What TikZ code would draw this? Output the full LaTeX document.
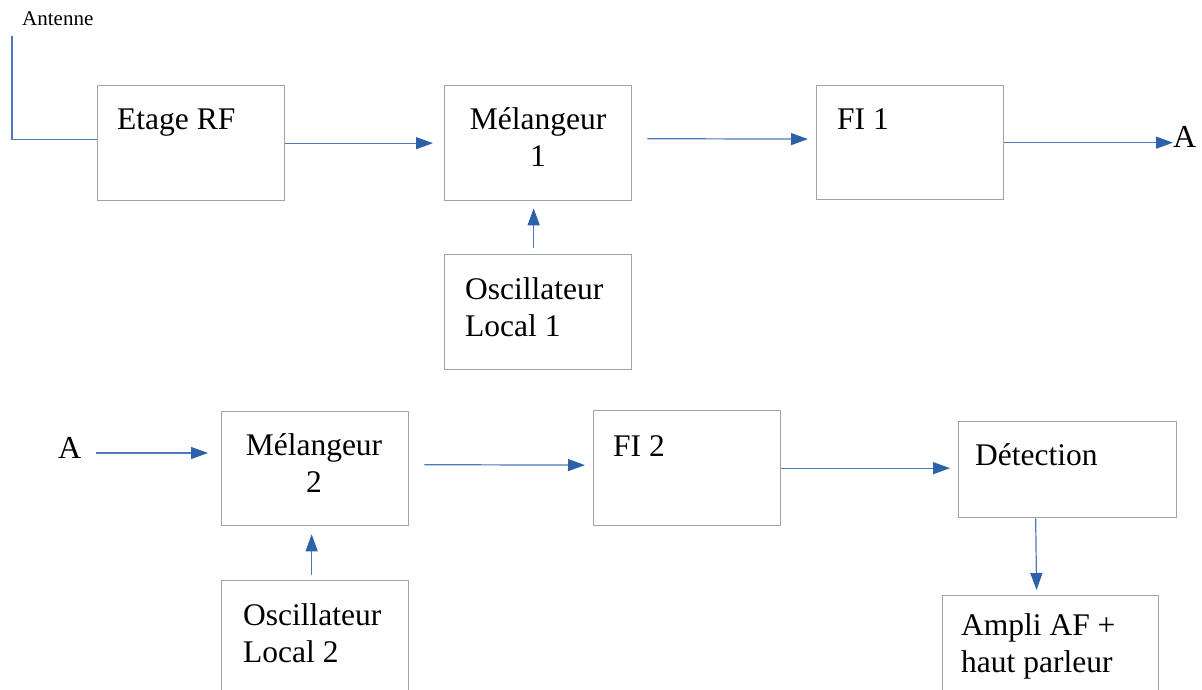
\documentclass[tikz,border=0pt]{standalone}
\usepackage{fontspec}
\setmainfont{Liberation Serif}
\newfontfamily\tnr{Liberation Serif}
\usetikzlibrary{arrows.meta}
\definecolor{boxgray}{HTML}{A3A3A3}
\definecolor{wireblue}{HTML}{4F78BA}
\definecolor{headblue}{HTML}{2E62A8}
\tikzset{
  blk/.style={draw=boxgray, line width=1.3pt, rectangle, inner sep=0pt, anchor=north west, fill=white},
  lbl/.style={inner sep=0pt, anchor=base west, align=left, font=\tnr\fontsize{31.5}{37}\selectfont},
  clbl/.style={inner sep=0pt, anchor=base, align=center, font=\tnr\fontsize{31.5}{37}\selectfont},
  wire/.style={draw=wireblue, line width=1.2pt},
  arr/.style={wire, -{Triangle[length=17pt,width=12pt,color=headblue]}},
}
\begin{document}
\begin{tikzpicture}[x=1pt,y=-1pt]
\useasboundingbox (0,0) rectangle (1202,690);
\clip (0,0) rectangle (1202,690);
% boxes
\node[blk, minimum width=187pt, minimum height=115pt] (rf) at (97,85) {};
\node[blk, minimum width=187pt, minimum height=115pt] (m1) at (444,85) {};
\node[blk, minimum width=187pt, minimum height=114pt] (fi1) at (816,85) {};
\node[blk, minimum width=187pt, minimum height=115pt] (o1) at (444,254) {};
\node[blk, minimum width=187pt, minimum height=114pt] (m2) at (221,411) {};
\node[blk, minimum width=187pt, minimum height=115pt] (fi2) at (593,410) {};
\node[blk, minimum width=218pt, minimum height=96pt] (det) at (958,421) {};
\node[blk, minimum width=187pt, minimum height=130pt] (o2) at (221,580) {};
\node[blk, minimum width=216pt, minimum height=120pt] (amp) at (942,595) {};
% texts (base anchor of a two-line node = baseline of its last line)
\node[inner sep=0pt, anchor=base west, font=\tnr\fontsize{21}{25}\selectfont] (antt) at (22,26) {Antenne};
\node[lbl] (trf) at (117,130) {Etage RF};
\node[clbl] (tm1) at (538,167) {Mélangeur\\1};
\node[lbl] (tfi1) at (837,130) {FI 1};
\node[lbl] (to1) at (465,336) {Oscillateur\\Local 1};
\node[clbl] (tm2) at (314,492) {Mélangeur\\2};
\node[lbl] (tfi2) at (613,456) {FI 2};
\node[lbl] (tdet) at (975,465) {Détection};
\node[lbl] (to2) at (243,662) {Oscillateur\\Local 2};
\node[lbl] (tamp) at (961,672) {Ampli AF +\\haut parleur};
\node[lbl, font=\tnr\fontsize{32}{37}\selectfont] (aout) at (1173,148) {A};
\node[lbl, font=\tnr\fontsize{32}{37}\selectfont] (ain) at (58,458) {A};
% connectors
\coordinate (ant) at (12,36);
\draw[wire] (ant) |- ([yshift=4pt]rf.west);
\draw[arr, shorten >=11pt] (rf.east) -- (rf.east -| m1.west);
\draw[arr, shorten <=15pt, shorten >=8pt] ([yshift=4.5pt]m1.east) -- ([yshift=3.5pt]fi1.west);
\draw[arr] (fi1.east) -- (fi1.east -| aout.west);
\draw[arr, shorten <=6pt, shorten >=7pt] ([xshift=-4.5pt]o1.north) -- ([xshift=-4.5pt]m1.south);
\draw[arr, shorten <=14pt, shorten >=13pt] (ain.east |- 0,453) -- (m2.west |- 0,453);
\draw[arr, shorten <=15pt, shorten >=8pt] ([yshift=4pt]m2.east) -- ([yshift=3pt]fi2.west);
\draw[arr, shorten >=8pt] (fi2.east) -- (fi2.east -| det.west);
\draw[arr, shorten <=5pt, shorten >=8pt] ([xshift=-3.5pt]o2.north) -- ([xshift=-3.5pt]m2.south);
\draw[arr, shorten >=5pt] ([xshift=-32pt]det.south) -- ([xshift=-14pt]amp.north);
\end{tikzpicture}
\end{document}
